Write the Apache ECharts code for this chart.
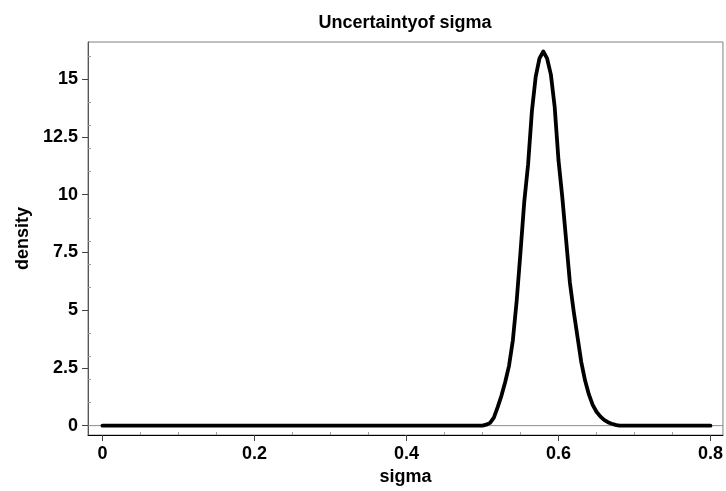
<!DOCTYPE html>
<html>
<head>
<meta charset="utf-8">
<script src="https://cdn.jsdelivr.net/npm/echarts@6/dist/echarts.min.js"></script>
<style>html,body{margin:0;padding:0;background:#fff}#c{width:726px;height:491px}</style>
</head>
<body>
<div id="c"></div>
<script>
// sigma values (x) and density values (y)
var sigma = [0, 0.05, 0.1, 0.15, 0.2, 0.25, 0.3, 0.35, 0.4, 0.45, 0.5,
  0.505, 0.51, 0.515, 0.52, 0.525, 0.53, 0.535, 0.54, 0.545, 0.55,
  0.555, 0.56, 0.565, 0.57, 0.575, 0.58, 0.585, 0.59, 0.595, 0.6,
  0.605, 0.61, 0.615, 0.62, 0.625, 0.63, 0.635, 0.64, 0.645, 0.65,
  0.655, 0.66, 0.665, 0.67, 0.675, 0.68, 0.7, 0.75, 0.8];
var density = [0, 0, 0, 0, 0, 0, 0, 0, 0, 0, 0,
  0.04, 0.12, 0.35, 0.8, 1.3, 1.9, 2.6, 3.7, 5.4, 7.5,
  9.7, 11.3, 13.6, 15.1, 15.9, 16.2, 15.9, 15.2, 13.8, 11.5,
  9.9, 8.05, 6.2, 4.95, 3.85, 2.75, 1.95, 1.35, 0.9, 0.6,
  0.4, 0.25, 0.15, 0.08, 0.03, 0, 0, 0, 0];
var xTicks = [0, 0.2, 0.4, 0.6, 0.8];
var xMinorTicks = [0.05, 0.1, 0.15, 0.25, 0.3, 0.35, 0.45, 0.5, 0.55, 0.65, 0.7, 0.75];
var yTicks = [0, 2.5, 5, 7.5, 10, 12.5, 15];
var yMinorTicks = [1, 2, 3, 4, 6, 7, 8, 9, 11, 12, 13, 14, 16];
var xMin = -0.019, xMax = 0.8164, yMin = -0.41, yMax = 16.61;

var pts = sigma.map(function (s, i) { return [s, density[i]]; });
var font = 'Liberation Sans, Arial, sans-serif';

var chart = echarts.init(document.getElementById('c'), null, {renderer: 'canvas'});
chart.setOption({
  animation: false,
  backgroundColor: '#fff',
  title: {
    text: 'Uncertaintyof sigma',
    left: 405, textAlign: 'center', top: 14, padding: 0,
    textStyle: {fontFamily: font, fontWeight: 'bold', fontSize: 18, color: '#000', letterSpacing: -0.3}
  },
  grid: {left: 88, right: 3, top: 42, bottom: 55, show: true, borderColor: '#7f7f7f', borderWidth: 1, backgroundColor: 'transparent'},
  xAxis: [{
    type: 'value', min: xMin, max: xMax,
    name: 'sigma', nameLocation: 'middle', nameGap: 29,
    nameTextStyle: {fontFamily: font, fontWeight: 'bold', fontSize: 18, color: '#000'},
    axisLine: {show: true, onZero: false, lineStyle: {color: '#000', width: 1}},
    axisTick: {show: true, customValues: xTicks, length: 6, lineStyle: {color: '#444'}},
    axisLabel: {customValues: xTicks, margin: 10, fontFamily: font, fontWeight: 'bold', fontSize: 18, color: '#000',
      formatter: function (v) { return String(Math.round(v * 10) / 10); }},
    splitLine: {show: false}
  }, {
    type: 'value', min: xMin, max: xMax, position: 'bottom',
    axisLine: {show: false, onZero: false},
    axisTick: {show: true, inside: true, customValues: xMinorTicks, length: 3, lineStyle: {color: '#999'}},
    axisLabel: {show: false}, splitLine: {show: false}
  }],
  yAxis: [{
    type: 'value', min: yMin, max: yMax,
    name: 'density', nameLocation: 'middle', nameGap: 50, nameRotate: 90,
    nameTextStyle: {fontFamily: font, fontWeight: 'bold', fontSize: 18, color: '#000'},
    axisLine: {show: true, onZero: false, lineStyle: {color: '#555', width: 1}},
    axisTick: {show: true, customValues: yTicks, length: 6, lineStyle: {color: '#444'}},
    axisLabel: {customValues: yTicks, margin: 10, fontFamily: font, fontWeight: 'bold', fontSize: 18, color: '#000'},
    splitLine: {show: false}
  }, {
    type: 'value', min: yMin, max: yMax, position: 'left',
    axisLine: {show: false, onZero: false},
    axisTick: {show: true, inside: true, customValues: yMinorTicks, length: 3, lineStyle: {color: '#999'}},
    axisLabel: {show: false}, splitLine: {show: false}
  }],
  series: [{
    type: 'line', z: 1, silent: true, symbol: 'none',
    data: [[xMin, 0], [xMax, 0]],
    lineStyle: {color: '#8c8c8c', width: 1}
  }, {
    type: 'line', z: 2, symbol: 'none', smooth: false,
    data: pts,
    lineStyle: {color: '#000', width: 3.8, cap: 'round', join: 'round'}
  }]
});
</script>
</body>
</html>
